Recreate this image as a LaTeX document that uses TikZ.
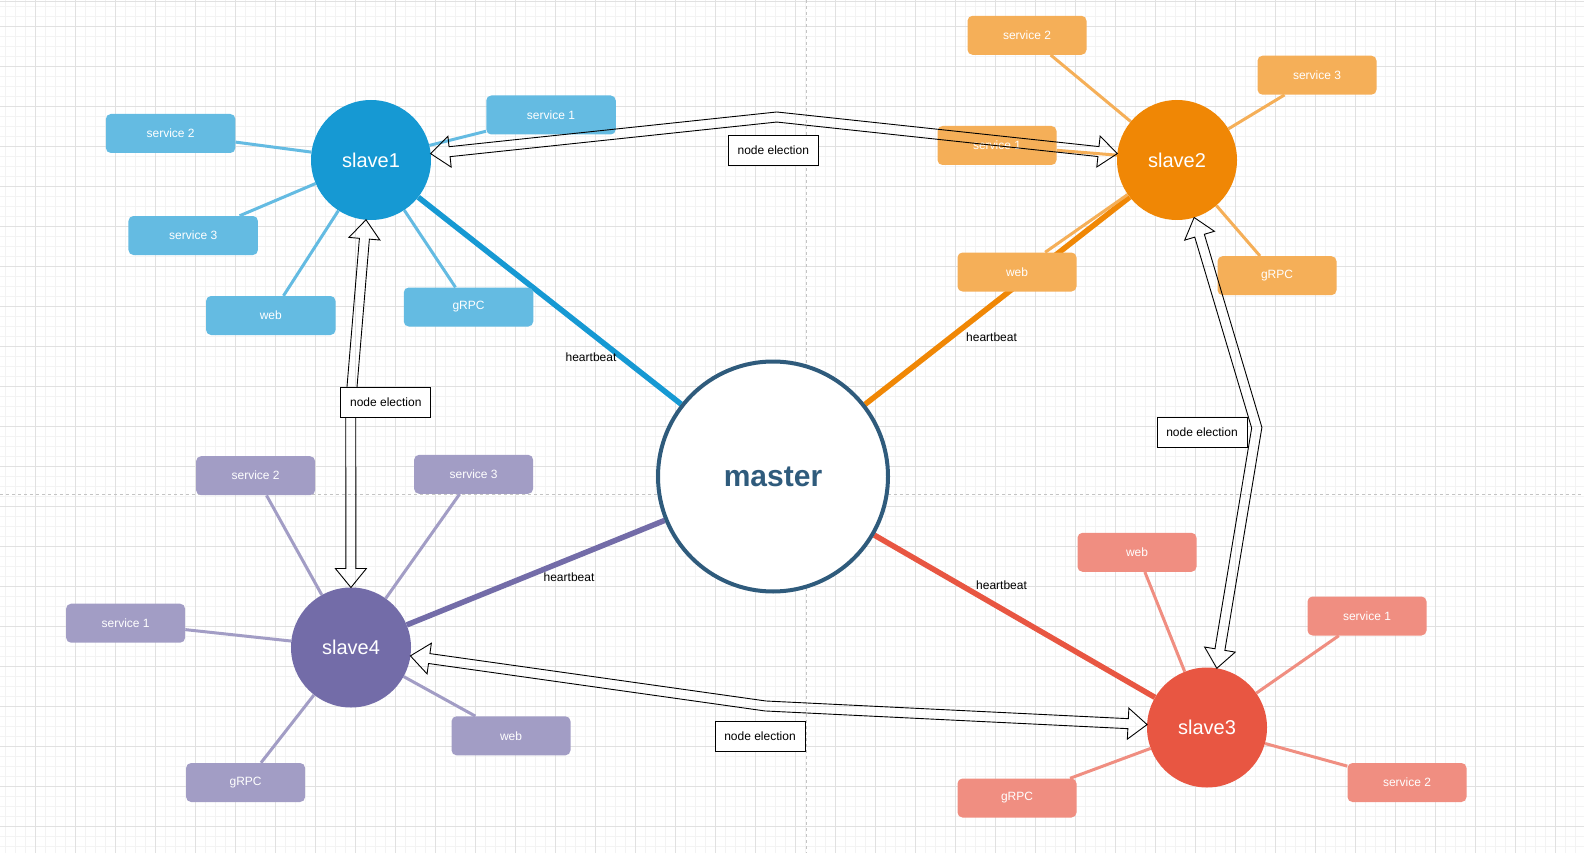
\documentclass[tikz,border=0pt]{standalone}
\usepackage{fontspec}
\setmainfont{Liberation Sans}
\usetikzlibrary{calc}
\definecolor{cA}{HTML}{1699D3}\definecolor{cAl}{HTML}{64BBE2}
\definecolor{cB}{HTML}{F08705}\definecolor{cBl}{HTML}{F5AF58}
\definecolor{cC}{HTML}{E85642}\definecolor{cCl}{HTML}{F08E81}
\definecolor{cD}{HTML}{736CA8}\definecolor{cDl}{HTML}{A29DC5}
\definecolor{cM}{HTML}{2F5B7C}
\definecolor{gmin}{HTML}{F3F3F3}\definecolor{gmaj}{HTML}{E1E1E1}
\definecolor{gpb}{HTML}{C4C4C4}
\pgfdeclarelayer{gridlayer}\pgfdeclarelayer{bglayer}
\pgfsetlayers{gridlayer,bglayer,main}
% #1 start node, #2 waypoint, #3 end node, #4 name prefix
\newcommand\flexarr[4]{%
 \coordinate (#4tA) at ($(#1.center)!60pt!(#2)$);
 \coordinate (#4tB) at ($(#3.center)!60pt!(#2)$);
 \coordinate (#4bA) at ($(#4tA)!19pt!(#2)$);
 \coordinate (#4bB) at ($(#4tB)!19pt!(#2)$);
 \coordinate (#4La) at ($(#4bA)!5pt!90:(#2)$);
 \coordinate (#4Lw) at ($(#2)!5pt!-90:(#4bA)$);
 \coordinate (#4Lv) at ($(#2)!5pt!90:(#4bB)$);
 \coordinate (#4Lb) at ($(#4bB)!5pt!-90:(#2)$);
 \coordinate (#4Ra) at ($(#4bA)!5pt!-90:(#2)$);
 \coordinate (#4Rw) at ($(#2)!5pt!90:(#4bA)$);
 \coordinate (#4Rv) at ($(#2)!5pt!-90:(#4bB)$);
 \coordinate (#4Rb) at ($(#4bB)!5pt!90:(#2)$);
 \coordinate (#4HLa) at ($(#4bA)!15.5pt!90:(#2)$);
 \coordinate (#4HRa) at ($(#4bA)!15.5pt!-90:(#2)$);
 \coordinate (#4HLb) at ($(#4bB)!15.5pt!-90:(#2)$);
 \coordinate (#4HRb) at ($(#4bB)!15.5pt!90:(#2)$);
 \coordinate (#4ML) at (intersection of #4La--#4Lw and #4Lv--#4Lb);
 \coordinate (#4MR) at (intersection of #4Ra--#4Rw and #4Rv--#4Rb);
 \draw[fx] (#4tA) -- (#4HLa) -- (#4La) -- (#4ML) -- (#4Lb) -- (#4HLb) -- (#4tB)
   -- (#4HRb) -- (#4Rb) -- (#4MR) -- (#4Ra) -- (#4HRa) -- cycle;
}
\begin{document}
\begin{tikzpicture}[x=1pt,y=-1pt,
  minorgrid/.style={gmin,line width=0.8pt},
  majorgrid/.style={gmaj,line width=0.8pt},
  pagebreak/.style={gpb,line width=0.8pt,dash pattern=on 3pt off 3pt},
  slave/.style={circle,minimum size=120pt,inner sep=0pt,text=white,font=\fontsize{20}{24}\selectfont},
  box/.style={rectangle,rounded corners=5pt,minimum width=119pt,minimum height=39pt,inner sep=0pt,text=white,font=\fontsize{12}{14}\selectfont},
  wbox/.style={box,minimum width=129.5pt},
  elect/.style={draw=black,line width=1pt,fill=white,minimum width=90pt,minimum height=30pt,inner sep=0pt,font=\fontsize{12}{14}\selectfont},
  hb/.style={inner sep=0pt,text=black,font=\fontsize{12}{14}\selectfont},
  leaf/.style={line width=3pt},
  beat/.style={line width=5.5pt},
  fx/.style={draw=black,line width=0.9pt,line join=miter}
]
\useasboundingbox (0,0) rectangle (1584,853);
\begin{pgfonlayer}{gridlayer}
\fill[white] (0,0) rectangle (1584,853);
\foreach \i in {0,...,157} \draw[minorgrid] ({5.7+10*\i},0) -- ({5.7+10*\i},853);
\foreach \i in {0,...,84} \draw[minorgrid] (0,{6.5+10*\i}) -- (1584,{6.5+10*\i});
\foreach \i in {0,...,38} \draw[majorgrid] ({35.7+40*\i},0) -- ({35.7+40*\i},853);
\foreach \i in {0,...,20} \draw[majorgrid] (0,{26.5+40*\i}) -- (1584,{26.5+40*\i});
\draw[majorgrid] (0,1.5) -- (1584,1.5);
\draw[pagebreak] (806,0) -- (806,853);
\draw[pagebreak] (0,494) -- (1584,494);
\end{pgfonlayer}

% slave1 group
\node[slave,fill=cA] (s1) at (371,160) {slave1};
\node[wbox,fill=cAl] (s1a) at (551,115) {service 1};
\node[wbox,fill=cAl] (s1b) at (170.6,133.5) {service 2};
\node[wbox,fill=cAl] (s1c) at (193.2,235.5) {service 3};
\node[wbox,fill=cAl] (s1w) at (270.8,315.5) {web};
\node[wbox,fill=cAl] (s1g) at (468.5,307) {gRPC};
% slave2 group
\node[slave,fill=cB] (s2) at (1177,160) {slave2};
\node[box,fill=cBl] (s2a) at (997,145.5) {service 1};
\node[box,fill=cBl] (s2b) at (1027,35.3) {service 2};
\node[box,fill=cBl] (s2c) at (1317,75.2) {service 3};
\node[box,fill=cBl] (s2w) at (1017,272) {web};
\node[box,fill=cBl] (s2g) at (1277,275.7) {gRPC};
% slave3 group
\node[slave,fill=cC] (s3) at (1207,727.5) {slave3};
\node[box,fill=cCl] (s3a) at (1367,616) {service 1};
\node[box,fill=cCl] (s3b) at (1407,782.5) {service 2};
\node[box,fill=cCl] (s3w) at (1137,552.3) {web};
\node[box,fill=cCl] (s3g) at (1017,798) {gRPC};
% slave4 group
\node[slave,fill=cD] (s4) at (351,647.5) {slave4};
\node[box,fill=cDl] (s4a) at (125.6,623.2) {service 1};
\node[box,fill=cDl] (s4b) at (255.6,475.7) {service 2};
\node[box,fill=cDl] (s4c) at (473.6,474.3) {service 3};
\node[box,fill=cDl] (s4w) at (511,735.8) {web};
\node[box,fill=cDl] (s4g) at (245.6,782.5) {gRPC};
% master
\node[circle,minimum size=230pt,inner sep=0pt,draw=cM,line width=4pt,fill=white,text=cM,font=\fontsize{30}{36}\selectfont\bfseries] (m) at (773,476.5) {master};

\begin{pgfonlayer}{bglayer}
\draw[beat,cA] (m) -- (s1);
\draw[beat,cB] (m) -- (s2);
\draw[beat,cC] (m) -- (s3);
\draw[beat,cD] (m) -- (s4);
\foreach \b in {a,b,c,w,g} \draw[leaf,cAl] (s1) -- (s1\b);
\foreach \b in {a,b,c,w,g} \draw[leaf,cBl] (s2) -- (s2\b);
\foreach \b in {a,b,w,g} \draw[leaf,cCl] (s3) -- (s3\b);
\foreach \b in {a,b,c,w,g} \draw[leaf,cDl] (s4) -- (s4\b);
\end{pgfonlayer}

% heartbeat labels
\node[hb] (h1) at (591,357.6) {heartbeat};
\node[hb] (h2) at (991.5,337.4) {heartbeat};
\node[hb] (h3) at (1001.5,585) {heartbeat};
\node[hb] (h4) at (569,576.8) {heartbeat};

% node election arrows
\coordinate (w12) at (776.7,117);
\coordinate (w14) at (350.7,402);
\coordinate (w23) at (1256.7,427.7);
\coordinate (w43) at (765.5,706);
\flexarr{s1}{w12}{s2}{pa}
\flexarr{s1}{w14}{s4}{pb}
\flexarr{s2}{w23}{s3}{pc}
\flexarr{s4}{w43}{s3}{pd}

\node[elect] (e12) at (773.3,150.3) {node election};
\node[elect] (e14) at (385.8,402.3) {node election};
\node[elect] (e23) at (1202,432.3) {node election};
\node[elect] (e43) at (760,736) {node election};
\end{tikzpicture}
\end{document}
